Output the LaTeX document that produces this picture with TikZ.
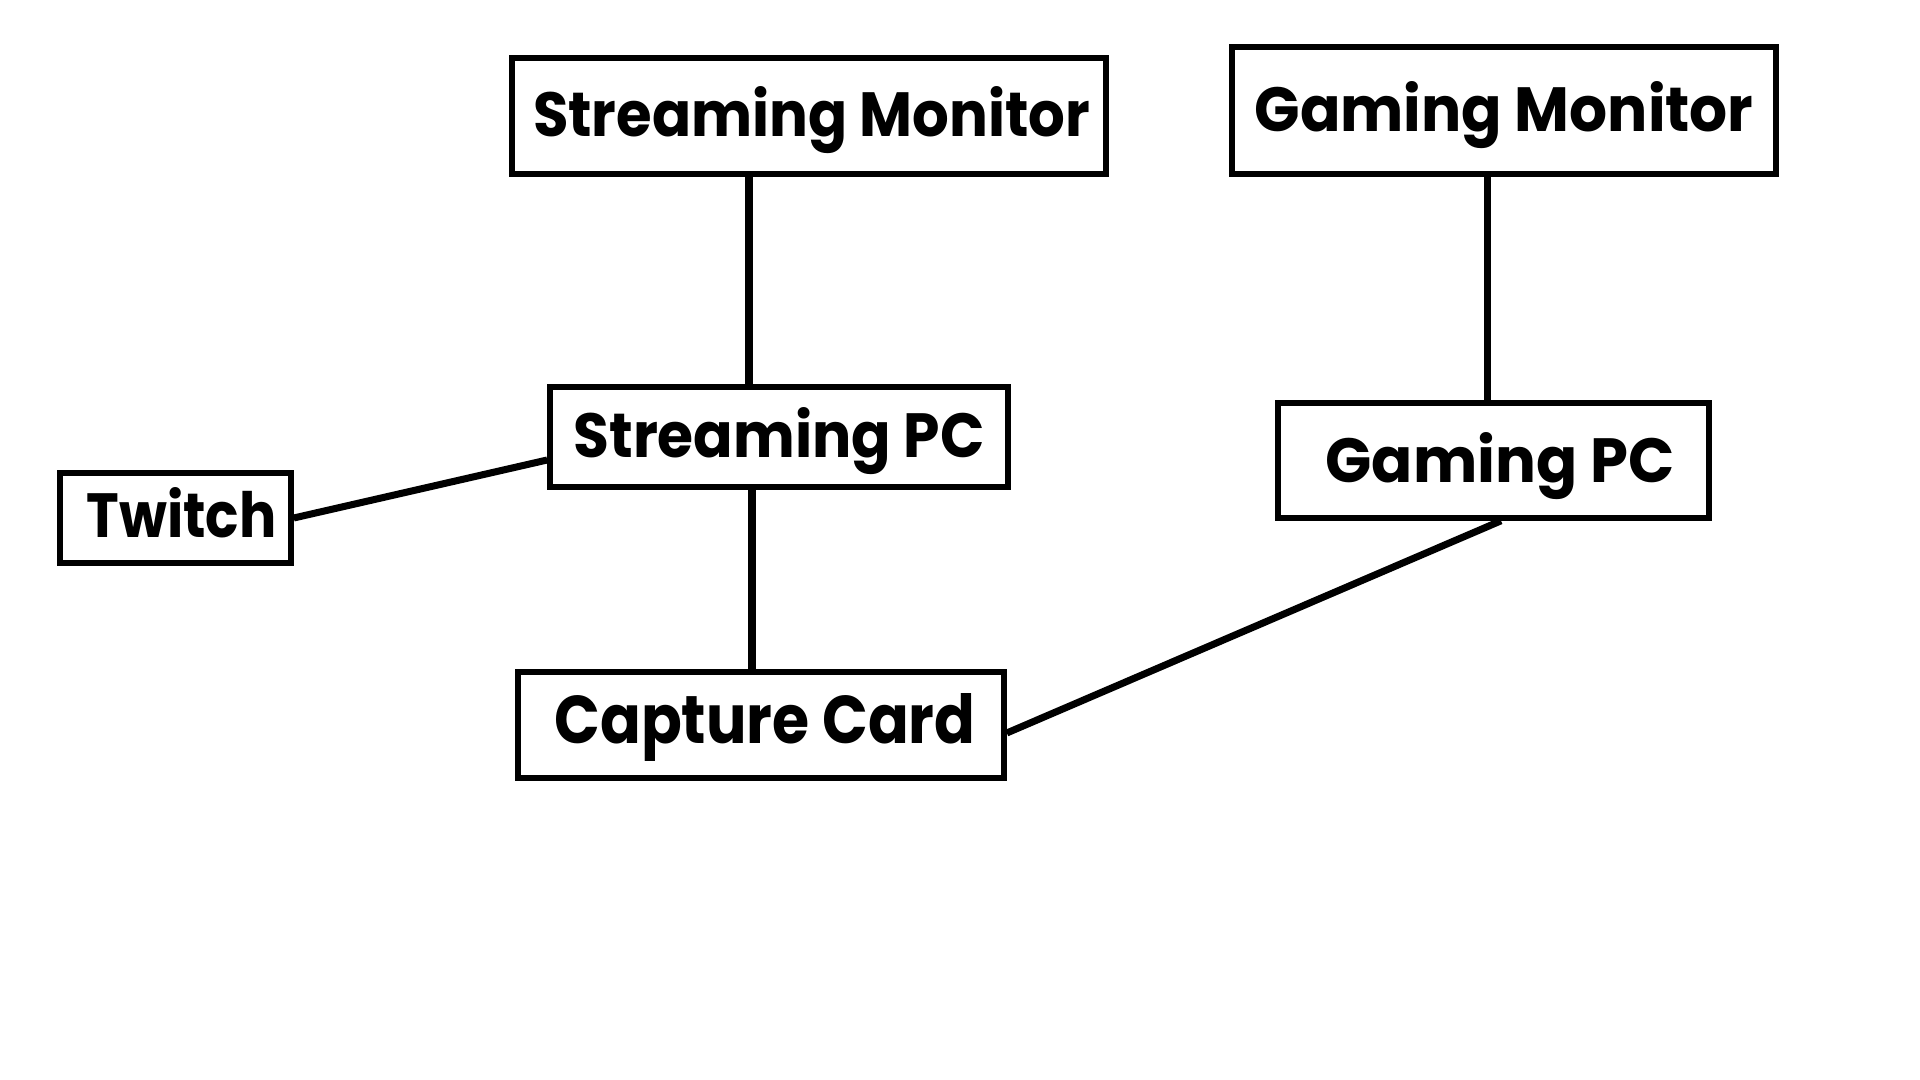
\documentclass[tikz,border=0pt]{standalone}
\usepackage{fontspec}
\setmainfont{Poppins}
\usepackage{graphicx}
\usepackage{tikz}
\usetikzlibrary{positioning, calc}
\tikzset{
  device/.style={draw, line width=1.6pt, inner sep=0pt, fill=white, align=center},
  cable/.style={line width=2pt, line cap=butt}
}
\newcommand{\devtext}[3]{\raisebox{#2}[\height][\depth]{\resizebox{#1}{0.5cm}{\bfseries #3}}}

\begin{document}
\begin{tikzpicture}[font=\bfseries]
        % Canvas
        \fill[white] (0,0) rectangle (19.2,10.8);
        \useasboundingbox (0,0) rectangle (19.2,10.8);

        % Devices
        \node[device, minimum width=5.94cm, minimum height=1.16cm] (smon)   at (8.09, 9.64)   {\hspace{0.05cm}\devtext{5.57cm}{-0.04cm}{Streaming Monitor}};
        \node[device, minimum width=5.44cm, minimum height=1.27cm] (gmon)   at (15.04, 9.695) {\devtext{4.99cm}{-0.05cm}{Gaming Monitor}};
        \node[device, minimum width=4.58cm, minimum height=1.00cm] (spc)    at (7.79, 6.43)   {\devtext{4.11cm}{-0.04cm}{Streaming PC}};
        \node[device, minimum width=4.31cm, minimum height=1.15cm] (gpc)    at (14.935, 6.195) {\hspace{0.13cm}\devtext{3.49cm}{-0.06cm}{Gaming PC}};
        \node[device, minimum width=2.31cm, minimum height=0.90cm] (twitch) at (1.755, 5.62)  {\hspace{0.12cm}\devtext{1.90cm}{0.05cm}{Twitch}};
        \node[device, minimum width=4.86cm, minimum height=1.06cm] (card)   at (7.61, 3.55)   {\hspace{0.08cm}\devtext{4.21cm}{-0.025cm}{Capture Card}};

        % Cables
        \draw[cable] ([xshift=-3mm]spc.north) -- ([xshift=-3mm]spc.north |- smon.south);
        \draw[cable] ([xshift=-0.65mm]gpc.north) -- ([xshift=-0.65mm]gpc.north |- gmon.south);
        \draw[cable] ([xshift=-2.7mm]spc.south) -- ([xshift=-2.7mm]spc.south |- card.north);
        \draw[cable] (twitch.east) -- ([yshift=-2.3mm]spc.west);
        \draw[cable] ([yshift=-0.8mm]card.east) -- ([xshift=0.75mm]gpc.south);
    \end{tikzpicture}
\end{document}
